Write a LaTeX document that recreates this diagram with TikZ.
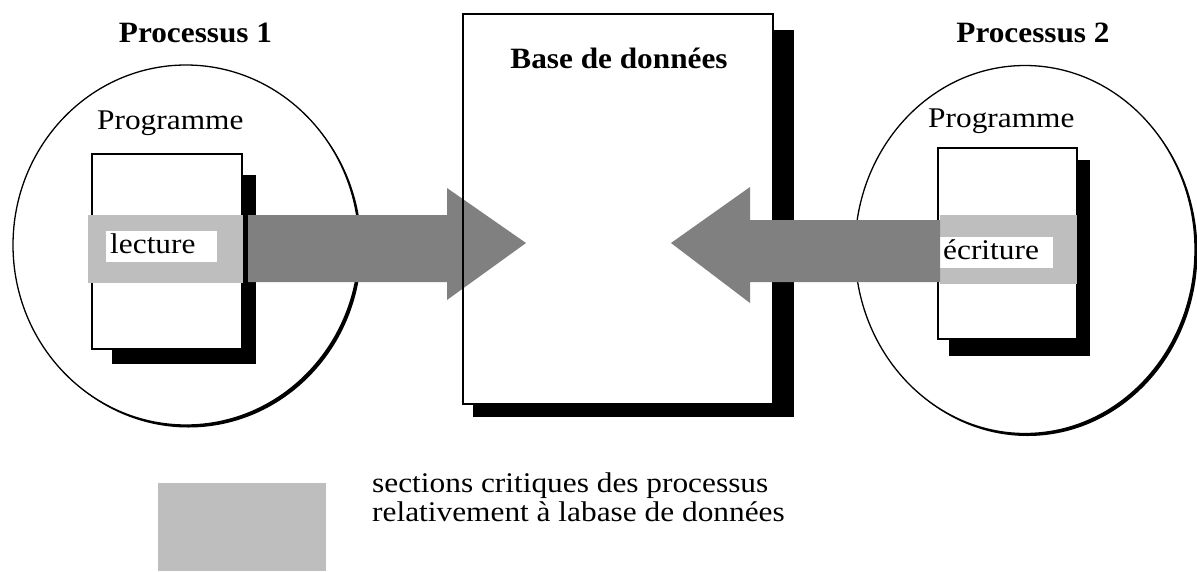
\documentclass[tikz,border=0pt]{standalone}
\usepackage{fontspec}
\setmainfont[FakeStretch=1.1]{Liberation Serif}
\newfontfamily\boldfam[FakeStretch=1.06]{Liberation Serif}
\definecolor{critgray}{HTML}{BEBEBE}
\definecolor{arrowgray}{HTML}{808080}
\begin{document}
\begin{tikzpicture}[x=1pt,y=-1pt,
  reg/.style={font=\fontsize{28.5}{29}\selectfont, inner sep=0pt},
  boldtxt/.style={font=\boldfam\bfseries\fontsize{29.5}{32}\selectfont, inner sep=0pt},
  shadowfill/.style={fill=black},
  paper/.style={fill=white, draw=black, line width=1.3pt},
  band/.style={fill=critgray},
  bigarrow/.style={fill=arrowgray},
  labelbox/.style={fill=white}]
\useasboundingbox (0,0) rectangle (1197,571);

% process circles
\fill[black] (188.5,247.5) ellipse [x radius=173pt, y radius=180pt];
\filldraw[fill=white, draw=black, line width=1.3pt] (186,245) ellipse [x radius=173pt, y radius=180pt];
\fill[black] (1027.5,252) ellipse [x radius=170pt, y radius=184pt];
\filldraw[fill=white, draw=black, line width=1.3pt] (1025,249.5) ellipse [x radius=170pt, y radius=184pt];

% titles
\node[boldtxt, anchor=base] (p1) at (195.5,42) {Processus 1};
\node[boldtxt, anchor=base] (p2) at (1033,42) {Processus 2};
\node[reg, anchor=base west] (prog1) at (97,129) {Programme};
\node[reg, anchor=base west] (prog2) at (928,127) {Programme};

% program boxes
\fill[shadowfill] (112,175) rectangle (256,364);
\filldraw[paper] (92,154) rectangle (242,349);
\fill[shadowfill] (949,160) rectangle (1090,356);
\filldraw[paper] (938,148) rectangle (1077,339);

% critical section bands
\fill[band] (88,215) rectangle (243,283);
\fill[band] (940,215) rectangle (1077,284);
\fill[labelbox] (106,231) rectangle (217,262);
\fill[labelbox] (940,237) rectangle (1053,268);
\node[reg, anchor=base west] (lec) at (110,253) {lecture};
\node[reg, anchor=base west] (ecr) at (943,259) {écriture};

% database
\fill[shadowfill] (473,30) rectangle (794,417);
\filldraw[paper] (463,14) rectangle (773,404);
\node[boldtxt, anchor=base] (db) at (619,68) {Base de données};

% big arrows
\fill[bigarrow] (248,215) -- (447,215) -- (447,188) -- (526,243) -- (447,300) -- (447,282) -- (248,282) -- cycle;
\fill[bigarrow] (940,220) -- (750,220) -- (750,187) -- (671,243) -- (750,303) -- (750,282) -- (940,282) -- cycle;
\draw[black, line width=1.3pt] (463,14) -- (463,404);

% legend
\fill[band] (158,483) rectangle (326,571);
\node[reg, anchor=base west, align=left] (leg) at (372,521) {sections critiques des processus\\relativement à labase de données};
\end{tikzpicture}
\end{document}
